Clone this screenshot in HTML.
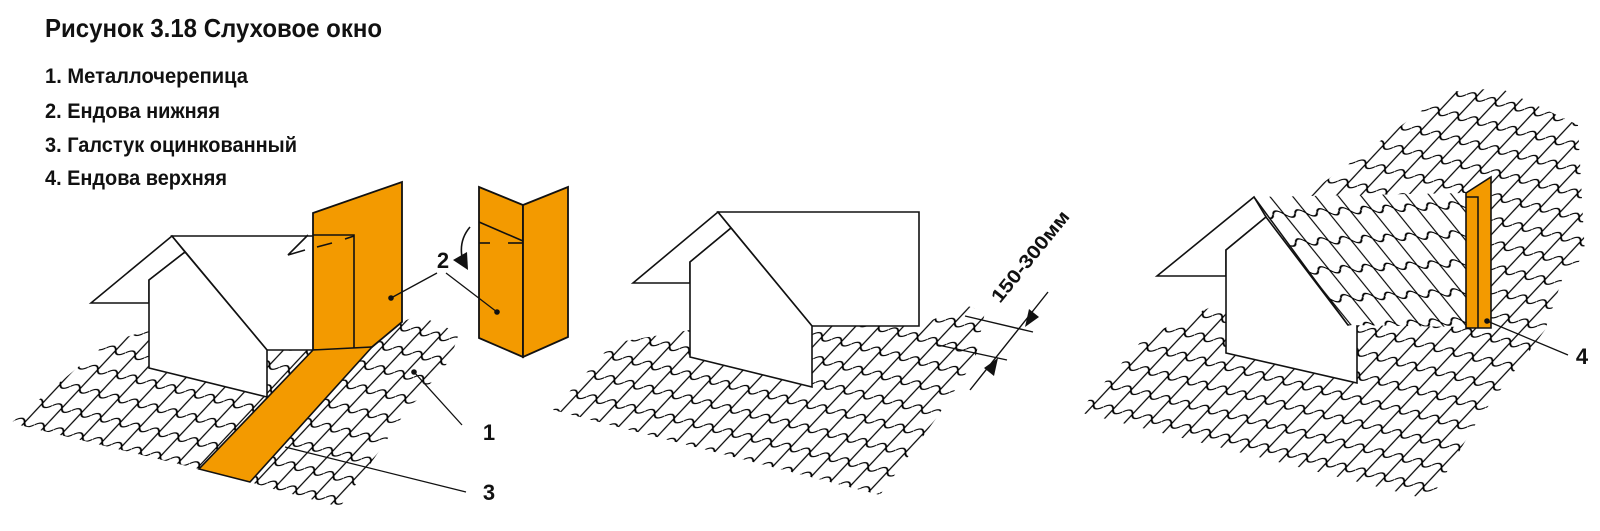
<!DOCTYPE html>
<html><head><meta charset="utf-8"><style>
html,body{margin:0;padding:0;background:#fff;}
svg{display:block;}
text{font-family:"Liberation Sans","DejaVu Sans",sans-serif;font-weight:bold;fill:#111;}
</style></head><body>
<svg width="1600" height="531" viewBox="0 0 1600 531" xmlns="http://www.w3.org/2000/svg">
<defs>
<pattern id="t1" width="20" height="23" patternUnits="userSpaceOnUse" patternTransform="rotate(14) skewX(-29)">
<path d="M10,0 V23 M0,13 q5,-7 10,0 t10,0" fill="none" stroke="#000" stroke-width="1.4"/>
</pattern>
<pattern id="t2" width="22" height="29" patternUnits="userSpaceOnUse" patternTransform="rotate(-3) skewX(36)">
<path d="M11,0 V29 M0,20 q5.5,-7 11,0 t11,0" fill="none" stroke="#000" stroke-width="1.4"/>
</pattern>
</defs>

<text x="45" y="37" font-size="26" textLength="337" lengthAdjust="spacingAndGlyphs">Рисунок 3.18 Слуховое окно</text>
<text x="45" y="83" font-size="21" textLength="203" lengthAdjust="spacingAndGlyphs">1. Металлочерепица</text>
<text x="45" y="118" font-size="21" textLength="175" lengthAdjust="spacingAndGlyphs">2. Ендова нижняя</text>
<text x="45" y="152" font-size="21" textLength="252" lengthAdjust="spacingAndGlyphs">3. Галстук оцинкованный</text>
<text x="45" y="185" font-size="21" textLength="182" lengthAdjust="spacingAndGlyphs">4. Ендова верхняя</text>

<!-- ===== Panel 1 ===== -->
<polygon points="11,423 107,343 149,330 290,350 313,350 199,469" fill="url(#t1)"/>
<polygon points="372,347 402,322 418,315 459,333 450,360 400,420 380,450 340,507 266,487 250,482" fill="url(#t1)"/>
<g fill="#fff" stroke="#111" stroke-width="1.6" stroke-linejoin="miter">
<polygon points="91,303 172,236 185,252 149,280 149,303"/>
<polygon points="172,236 355,236 355,350 267,350"/>
<polygon points="149,280 185,252 267,350 267,397 149,368"/>
</g>
<g stroke="#111" stroke-width="1.6" fill="none">
<polyline points="308,235 288,255 305,250"/>
</g>
<polygon points="313,213 402,182 402,322 372,347 355,350 313,350" fill="#f39a00" stroke="#111" stroke-width="1.8"/>
<g stroke="#111" stroke-width="1.6" fill="none">
<polyline points="313,235 354,235 354,350"/>
<line x1="317" y1="247" x2="332" y2="243"/>
<line x1="345" y1="239" x2="354" y2="236"/>
</g>
<polygon points="313,350 372,347 250,482 199,469" fill="#f39a00" stroke="#111" stroke-width="1.6"/>
<polygon points="479,187 523,205 523,357 479,338" fill="#f39a00" stroke="#111" stroke-width="1.8"/>
<polygon points="523,205 568,187 568,337 523,357" fill="#f39a00" stroke="#111" stroke-width="1.8"/>
<g stroke="#111" stroke-width="1.6" fill="none">
<line x1="479" y1="222" x2="523" y2="241"/>
<line x1="479" y1="243" x2="490" y2="243"/>
<line x1="508" y1="243" x2="523" y2="243"/>
<path d="M470,227 Q459,240 462,257"/>
</g>
<polygon points="468,270 453,260 467,252" fill="#111"/>
<g stroke="#111" stroke-width="1.3" fill="none">
<line x1="437" y1="273" x2="391" y2="298"/>
<line x1="446" y1="273" x2="497" y2="312"/>
<line x1="414" y1="372" x2="462" y2="425"/>
<line x1="285" y1="447" x2="466" y2="492"/>
</g>
<circle cx="391" cy="298" r="2.8" fill="#111"/>
<circle cx="497" cy="312" r="2.8" fill="#111"/>
<circle cx="414" cy="372" r="2.8" fill="#111"/>
<text x="443" y="268" font-size="22" text-anchor="middle">2</text>
<text x="489" y="440" font-size="22" text-anchor="middle">1</text>
<text x="489" y="500" font-size="22" text-anchor="middle">3</text>

<!-- ===== Panel 2 ===== -->
<polygon points="553,410 613,343 690,330 812,326 919,326 965,305 985,312 975,360 935,420 880,495" fill="url(#t1)"/>
<g fill="#fff" stroke="#111" stroke-width="1.6">
<polygon points="633,283 718,212 731,228 690,262 690,283"/>
<polygon points="718,212 919,212 919,326 812,326"/>
<polygon points="690,262 731,228 812,326 812,387 690,357"/>
</g>
<g stroke="#111" stroke-width="1.4" fill="none">
<line x1="1048" y1="292" x2="970" y2="390"/>
<line x1="965" y1="316" x2="1033" y2="332"/>
<line x1="938" y1="345" x2="1007" y2="360"/>
</g>
<polygon points="1025,327 1029,309 1039,317" fill="#111"/>
<polygon points="998,358 994,376 984,368" fill="#111"/>
<text font-size="19" transform="translate(1000,304) rotate(-51)" textLength="112" lengthAdjust="spacingAndGlyphs">150-300мм</text>

<!-- ===== Panel 3 ===== -->
<polygon points="1078,412 1145,337 1226,300 1320,185 1447,92 1500,88 1578,125 1585,255 1562,280 1545,330 1478,420 1430,500" fill="url(#t1)"/>
<g fill="#fff" stroke="#111" stroke-width="1.6">
<polygon points="1157,276 1254,197 1266,217 1226,250 1226,276"/>
<polygon points="1226,250 1266,217 1348,325 1357,323 1357,383 1226,353"/>
</g>
<polygon points="1254,197 1466,193 1466,327 1348,325" fill="#fff"/>
<polygon points="1254,197 1466,193 1466,327 1348,325" fill="url(#t2)"/>
<line x1="1254" y1="197" x2="1348" y2="325" stroke="#111" stroke-width="1.5"/>
<polygon points="1466,193 1491,177 1491,328 1466,328" fill="#f39a00" stroke="#111" stroke-width="1.6"/>
<polyline points="1466,197 1478,197 1478,328" fill="none" stroke="#111" stroke-width="1.5"/>
<circle cx="1487" cy="321" r="2.8" fill="#111"/>
<line x1="1487" y1="321" x2="1568" y2="355" stroke="#111" stroke-width="1.3"/>
<text x="1582" y="364" font-size="22" text-anchor="middle">4</text>
</svg>
</body></html>
